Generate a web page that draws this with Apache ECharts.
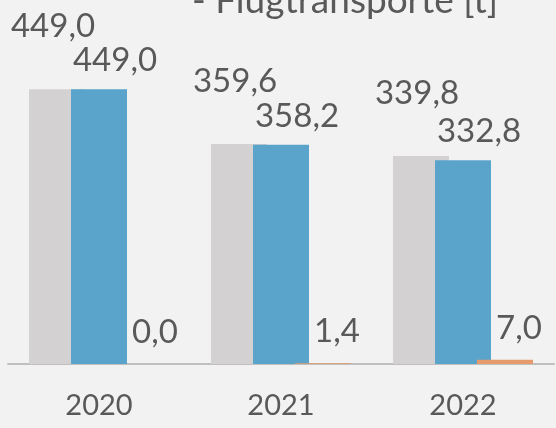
<!DOCTYPE html>
<html>
<head>
<meta charset="utf-8">
<script src="https://cdn.jsdelivr.net/npm/echarts@6/dist/echarts.min.js"></script>
<style>
    html, body { margin: 0; padding: 0; background: #f2f2f2; }
    #chart { width: 556px; height: 428px; }
</style>
</head>
<body>
<div id="chart"></div>
<script>
var years = ['2020', '2021', '2022'];
var greyValues = [449.0, 359.6, 339.8];
var blueValues = [449.0, 358.2, 332.8];
var orangeValues = [0.0, 1.4, 7.0];

function fmt(p) {
    return p.value.toFixed(1).replace('.', ',');
}

function barLabel(dx, dy) {
    return {
        show: true,
        position: 'top',
        distance: 0,
        offset: [dx, dy],
        formatter: fmt,
        fontFamily: 'Lato',
        fontSize: 33,
        color: '#595959'
    };
}

var chart = echarts.init(document.getElementById('chart'));
var option = {
    backgroundColor: '#f2f2f2',
    animation: false,
    title: {
        text: '- Flugtransporte [t]',
        left: 187,
        top: -22,
        textStyle: {
            fontFamily: 'Lato',
            fontSize: 37,
            fontWeight: 'normal',
            color: '#595959'
        }
    },
    grid: {
        top: 58,
        right: 2,
        bottom: 64,
        left: 8
    },
    xAxis: {
        type: 'category',
        data: years,
        axisTick: { show: false },
        axisLine: {
            lineStyle: {
                color: '#bfbfbf',
                width: 2
            }
        },
        axisLabel: {
            margin: 27,
            fontFamily: 'Lato',
            fontSize: 29,
            color: '#595959'
        }
    },
    yAxis: {
        type: 'value',
        min: 0,
        max: 500,
        show: false,
        splitLine: { show: false }
    },
    series: [{
        name: 'Gesamt',
        type: 'bar',
        data: greyValues,
        barWidth: 56,
        barGap: '-25%',
        itemStyle: { color: '#d3d1d1' },
        label: barLabel(-4, -46)
    }, {
        name: 'Transport',
        type: 'bar',
        data: blueValues,
        barWidth: 56,
        barGap: '-25%',
        itemStyle: { color: '#5aa3cb' },
        label: barLabel(16, -12)
    }, {
        name: 'Flug',
        type: 'bar',
        data: orangeValues,
        barWidth: 56,
        barGap: '-25%',
        itemStyle: { color: '#e59b6c' },
        label: barLabel(14, -15)
    }]
};
chart.setOption(option);
window.addEventListener('resize', function () {
    chart.resize();
});
</script>
</body>
</html>
